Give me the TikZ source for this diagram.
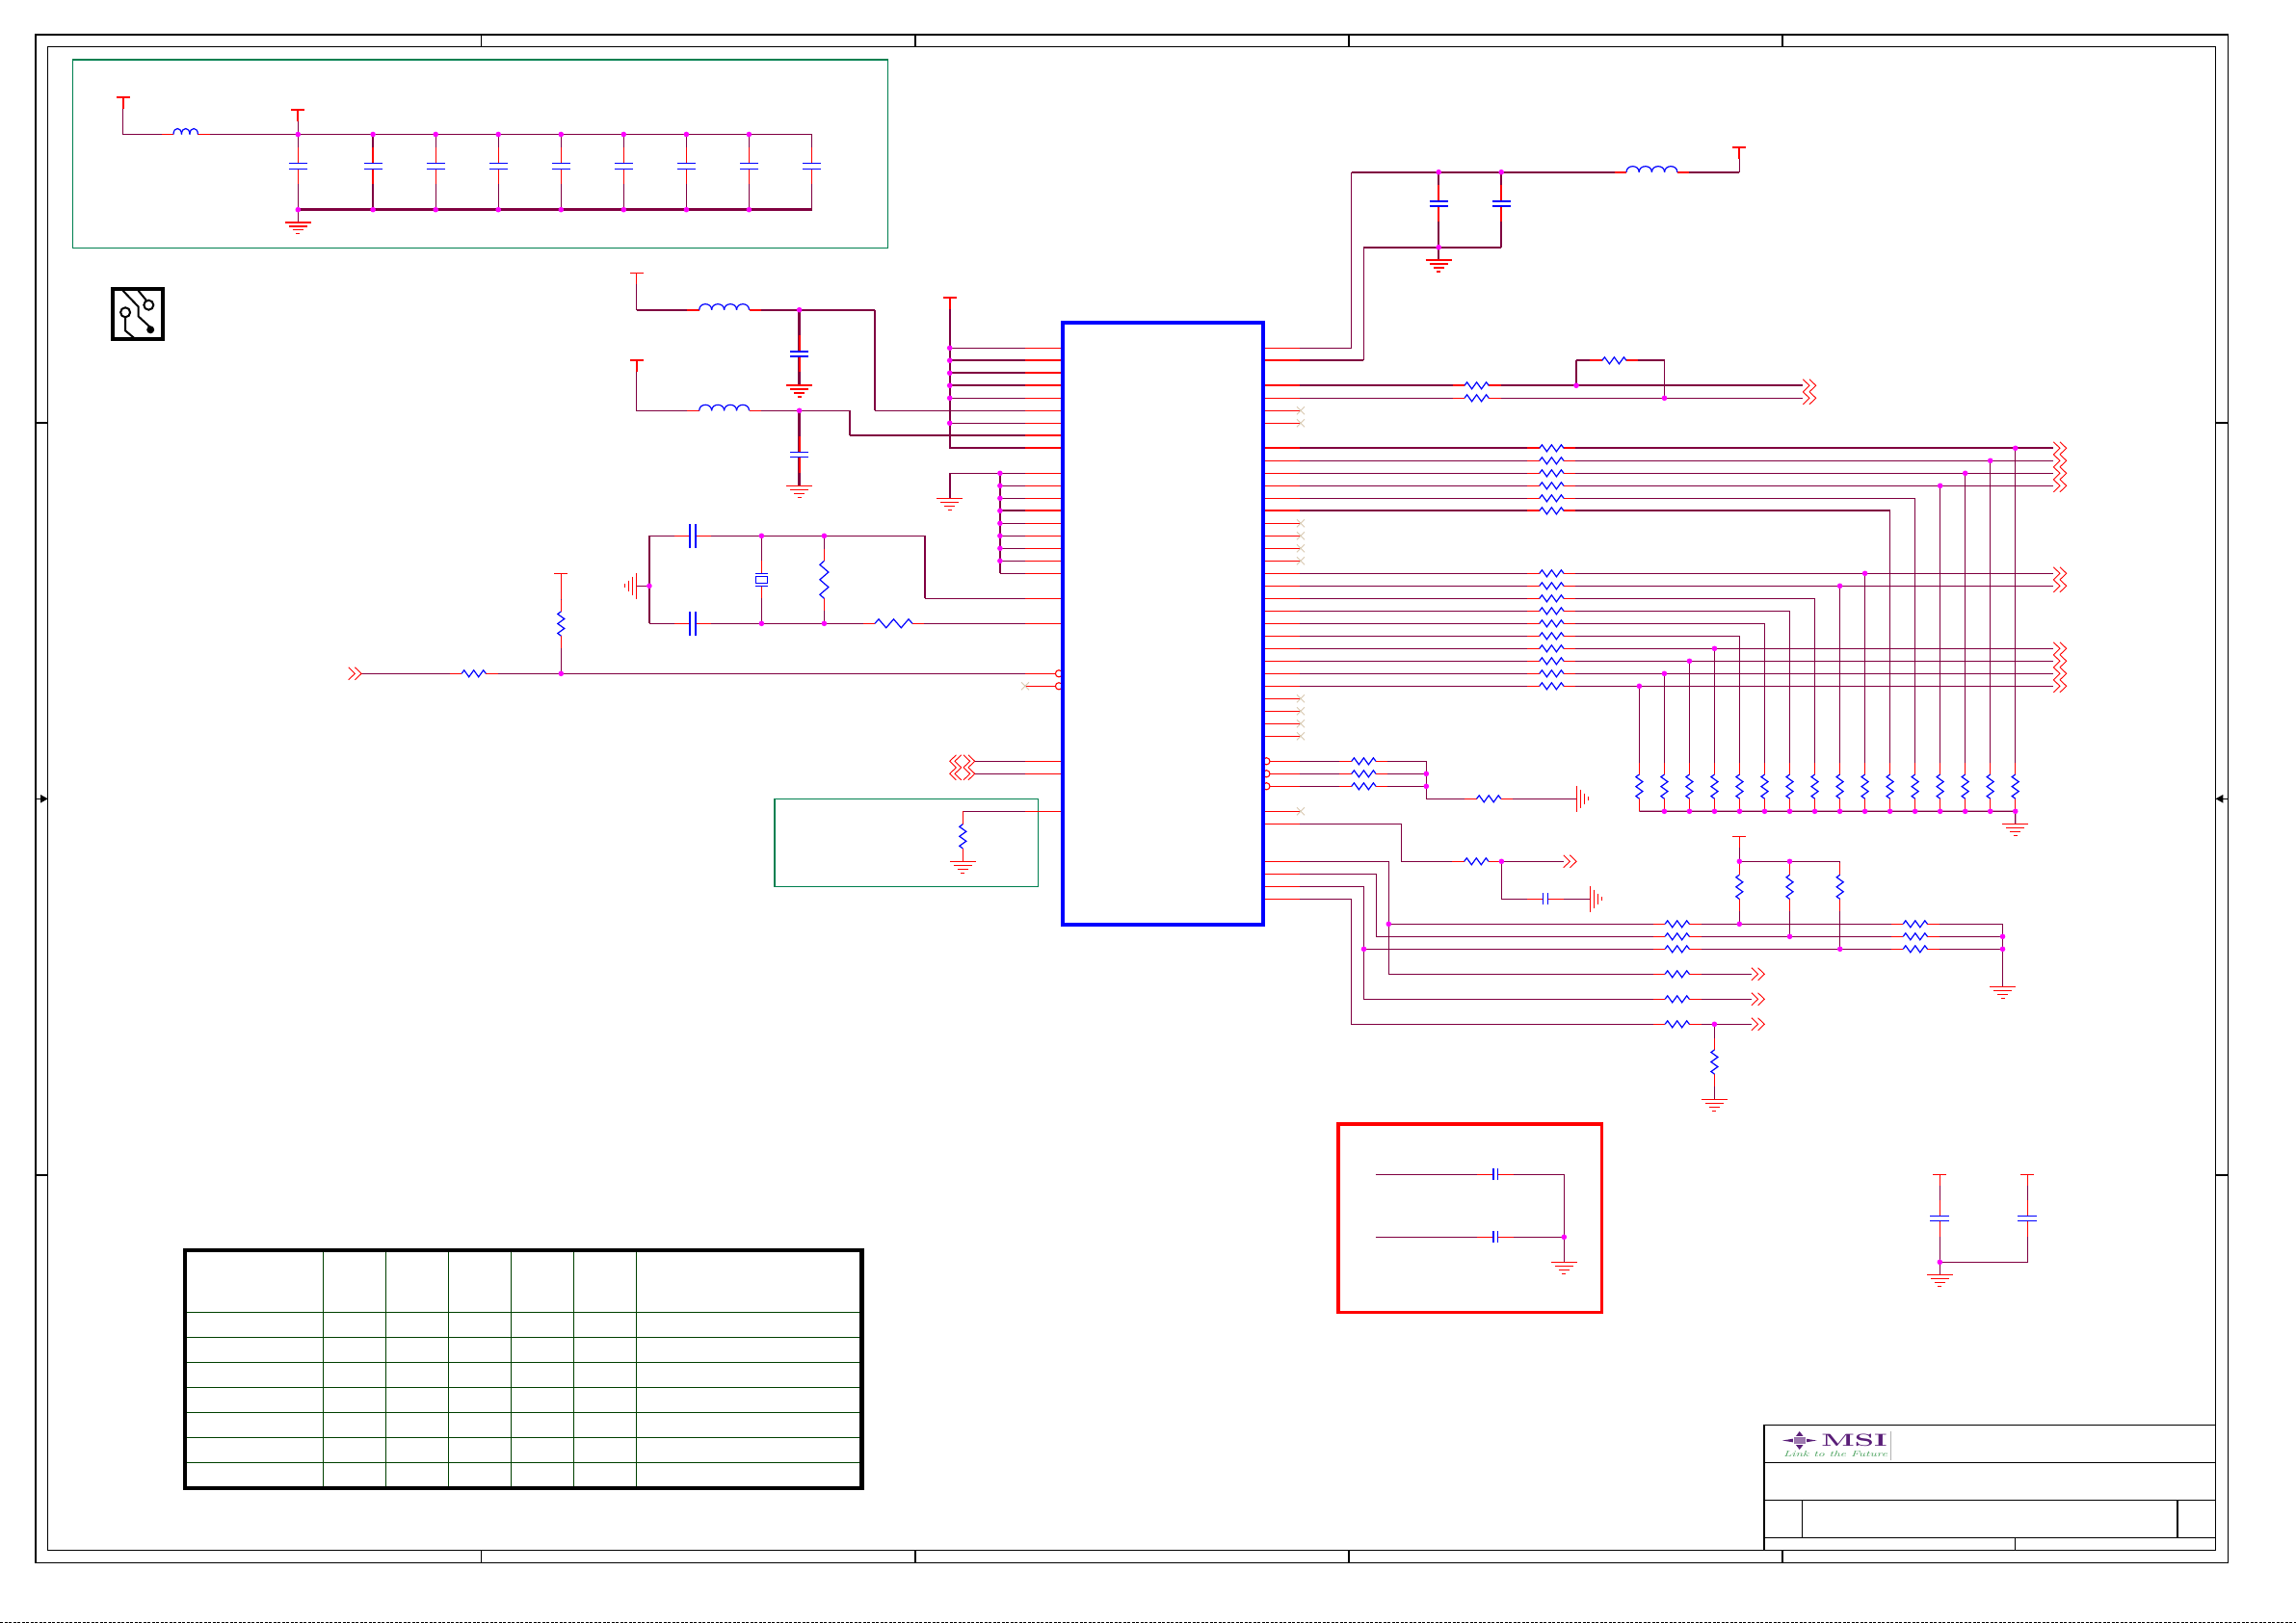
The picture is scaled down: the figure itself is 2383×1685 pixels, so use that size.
\documentclass[tikz,border=0pt]{standalone}
\usepackage{tikz}
\definecolor{netcol}{RGB}{128,0,64}
\definecolor{boxgreen}{RGB}{0,128,80}
\definecolor{tablegreen}{RGB}{0,64,0}
\definecolor{nccol}{RGB}{216,200,176}
\definecolor{logopurple}{RGB}{90,30,120}
\definecolor{logogreen}{RGB}{70,160,90}
\definecolor{juncol}{RGB}{255,0,255}
\tikzset{
	net/.style={draw=netcol, line width=1.3},
	netb/.style={draw=netcol, line width=2.3},
	pinline/.style={draw=red, line width=1.3},
	pinb/.style={draw=red, line width=2.3},
	part/.style={draw=blue, line width=1.2},
	frameline/.style={draw=black, line width=1.5},
	areabox/.style={draw=boxgreen, line width=1.1},
	icbox/.style={draw=blue, line width=4, rectangle, inner sep=0, outer sep=0, anchor=north west},
	logotext/.style={inner sep=0, outer sep=0}
}
\newcommand{\jun}[1]{\fill[juncol] #1 circle (2.8pt);}
\newcommand{\pwr}[3][1.1]{\draw[draw=red, line width=#1] (#2-7,#3) -- (#2+7,#3) (#2,#3) -- (#2,#3+12);}
\newcommand{\gnd}[3][1.1]{\begin{scope}[shift={(#2,#3)},rotate=0,draw=red]
		\draw[draw=red, line width=#1] (-13.5,0) -- (13.5,0) (-9.7,4) -- (9.7,4);
		\draw[draw=red, line width=1.1] (-5.7,8) -- (5.7,8) (-2,12) -- (2,12);
	\end{scope}}
\newcommand{\gndR}[2]{\begin{scope}[shift={(#1,#2)}]
		\draw[draw=red, line width=1.1] (0,-13.5) -- (0,13.5) (4,-9.7) -- (4,9.7) (8,-5.7) -- (8,5.7) (12,-2) -- (12,2);
	\end{scope}}
\newcommand{\gndL}[2]{\begin{scope}[shift={(#1,#2)}]
		\draw[draw=red, line width=1.1] (0,-13.5) -- (0,13.5) (-4,-9.7) -- (-4,9.7) (-8,-5.7) -- (-8,5.7) (-12,-2) -- (-12,2);
	\end{scope}}
\newcommand{\resP}[4][1.3]{\begin{scope}[shift={(#2,#3)},rotate=#4]
		\draw[white, line width=3] (-12.6,0) -- (12.6,0);
		\draw[pinline, line width=#1] (-25,0) -- (-12.6,0) (12.6,0) -- (25,0);
		\draw[part] (-12.6,0) -- (-10,-3.5) -- (-5,3.5) -- (0,-3.5) -- (5,3.5) -- (10,-3.5) -- (12.6,0);
	\end{scope}}
\newcommand{\resL}[3]{\begin{scope}[shift={(#1,#2)},rotate=#3]
		\draw[white, line width=3] (-19.5,0) -- (19.5,0);
		\draw[pinline] (-31.7,0) -- (-19.5,0) (19.5,0) -- (31.7,0);
		\draw[part] (-19.5,0) -- (-15.5,-4.5) -- (-7.8,4.5) -- (0,-4.5) -- (7.8,4.5) -- (15.5,-4.5) -- (19.5,0);
	\end{scope}}
\newcommand{\capP}[7][1.3]{\begin{scope}[shift={(#2,#3)},rotate=#4]
		\draw[white, line width=3] (0,-#5) -- (0,#5);
		\draw[pinline, line width=#1] (0,-19) -- (0,-#5) (0,#5) -- (0,19);
		\draw[part, line width=#7] (-#6,-#5) -- (#6,-#5) (-#6,#5) -- (#6,#5);
	\end{scope}}
\newcommand{\indH}[5][1.3]{\pgfmathsetmacro\indw{#4/#5}
	\draw[white, line width=3] (#2-#4/2,#3) -- (#2+#4/2,#3);
	\draw[pinline, line width=#1] (#2-#4/2-12.5,#3) -- (#2-#4/2,#3) (#2+#4/2,#3) -- (#2+#4/2+12.5,#3);
	\foreach \k in {1,...,#5}{
		\pgfmathsetmacro\inda{#2-#4/2+(\k-1)*\indw}
		\pgfmathsetmacro\indb{\inda+\indw}
		\draw[part] (\inda,#3) .. controls (\inda,#3-8) and (\indb,#3-8) .. (\indb,#3);
	}}
\newcommand{\chev}[2]{\draw[draw=red, line width=.9] (#1,#2-6.5) -- (#1+6.7,#2) -- (#1,#2+6.5) (#1+6.7,#2-6.5) -- (#1+13.4,#2) -- (#1+6.7,#2+6.5);}
\newcommand{\chevB}[2]{\draw[draw=red, line width=.9]
	(#1-19.3,#2-6.5) -- (#1-26,#2) -- (#1-19.3,#2+6.5) (#1-14,#2-6.5) -- (#1-20.7,#2) -- (#1-14,#2+6.5)
	(#1-11.7,#2-6.5) -- (#1-5,#2) -- (#1-11.7,#2+6.5) (#1-6.7,#2-6.5) -- (#1,#2) -- (#1-6.7,#2+6.5);}
\newcommand{\ncx}[2]{\draw[draw=nccol, line width=.9] (#1-4,#2-4) -- (#1+4,#2+4) (#1-4,#2+4) -- (#1+4,#2-4);}
\begin{document}
\begin{tikzpicture}[x=1pt, y=-1pt]
	\useasboundingbox (0,0) rectangle (2383,1685);
	\draw[draw=black, line width=.7, dash pattern=on 3pt off 1.5pt] (0,1684.4) -- (2383,1684.4);

	\draw[frameline] (37,36) rectangle (2312.6,1622.7);
	\draw[frameline] (49.7,48.3) rectangle (2299.6,1609.3);
	\foreach \x in {499.5,950,1400,1850}{
		\draw[frameline] (\x,36) -- (\x,48.3) (\x,1609.3) -- (\x,1622.7);
	}
	\foreach \y in {439,1220}{
		\draw[frameline] (37,\y) -- (49.7,\y) (2299.6,\y) -- (2312.6,\y);
	}
	\draw[frameline] (37,829.3) -- (49.7,829.3) (2299.6,829.3) -- (2312.6,829.3);
	\fill[black] (42,825) -- (49.7,829.3) -- (42,833.6) -- cycle;
	\fill[black] (2307.3,825) -- (2299.6,829.3) -- (2307.3,833.6) -- cycle;

	\draw[frameline] (1831.2,1479.3) rectangle (2299.6,1609.3);
	\draw[frameline] (1831.2,1518.3) -- (2299.6,1518.3) (1831.2,1557.3) -- (2299.6,1557.3) (1831.2,1596.3) -- (2299.6,1596.3);
	\draw[frameline] (1870.3,1557.3) -- (1870.3,1596.3) (2260.2,1557.3) -- (2260.2,1596.3) (2091.4,1596.3) -- (2091.4,1609.3);

	\fill[logopurple] (1850,1495.5) -- (1862,1493.5) -- (1867.7,1486) -- (1873.4,1493.5) -- (1885.5,1495.5) -- (1873.4,1497.5) -- (1867.7,1505) -- (1862,1497.5) -- cycle;
	\draw[draw=white, fill=logopurple!60, line width=.6] (1861,1491.5) rectangle (1874.4,1499.5);
	\node[logotext, font=\bfseries\fontsize{18}{18}\selectfont, text=logopurple, xscale=1.8] (logoname) at (1924.5,1495.5) {MSI};
	\node[logotext, font=\itshape\fontsize{8.5}{8.5}\selectfont, text=logogreen, xscale=1.55] (logoline) at (1905,1510) {Link to the Future};
	\draw[draw=black!30, line width=1] (1962.5,1486) -- (1962.5,1516);

	\draw[areabox] (75.3,62) rectangle (921.6,257.3);
	\draw[areabox] (804,829.3) rectangle (1077.3,920.3);
	\draw[draw=red, line width=3.4] (1389,1167) rectangle (1662.3,1362.7);

	\draw[draw=black, line width=3.5] (117.2,300.1) rectangle (169.2,352.2);
	\draw[draw=black, line width=2] (127.5,301.7) -- (143.5,318.3) -- (143.5,328.3) -- (156.2,340);
	\fill[black] (156.2,342.3) circle (4pt);
	\draw[draw=black, line width=2] (143.5,301.7) -- (151.8,311.7);
	\draw[draw=black, line width=2] (154.3,316.7) circle (5pt);
	\draw[draw=black, line width=2] (130.1,324.3) circle (5pt);
	\draw[draw=black, line width=2] (130.1,329.3) -- (130.1,343.3) -- (139,350.7);

	\draw[draw=black, line width=4.4] (192.2,1297.7) rectangle (894.4,1545);
	\foreach \x in {335.6,400.3,465.4,530.5,595.7,660.3}{
		\draw[draw=tablegreen, line width=1.1] (\x,1299.7) -- (\x,1543);
	}
	\foreach \y in {1362.3,1388.3,1414.3,1440.3,1466.3,1492.3,1518.3}{
		\draw[draw=tablegreen, line width=1.1] (194.2,\y) -- (892.4,\y);
	}

	\foreach \i in {0,...,44}{
		\pgfmathsetmacro\py{361.3+13*\i}
		\coordinate (pl\i) at (1103,\py);
		\coordinate (pr\i) at (1310.4,\py);
		\coordinate (end\i) at (2131.3,\py);
	}
	\foreach \c in {0,...,15}{
		\pgfmathsetmacro\cx{1701.4+26.02*\c}
		\coordinate (col\c) at (\cx,842.3);
	}

	\draw[net] (127.5,100.7) -- (127.5,139.5) -- (842.5,139.5) -- (842.5,217.7);
	\draw[net] (309.3,113.7) -- (309.3,139.5);
	\draw[netb, line width=3] (309.3,217.7) -- (842.5,217.7);
	\draw[net] (309.3,217.7) -- (309.3,230.7);
	\foreach \x in {309.3,387.1,452.2,517.2,582.3,647.3,712.4,777.4}{
		\draw[net] (\x,139.5) -- (\x,217.7);
	}
	\foreach \x in {309.3,387.1,452.2,517.2,582.3,647.3,712.4,777.4,842.5}{
		\capP{\x}{172.3}{0}{3}{9.6}{1.2}
	}
	\foreach \x in {309.3,387.1,452.2,517.2,582.3,647.3,712.4,777.4}{
		\jun{(\x,139.5)}
		\jun{(\x,217.7)}
	}
	\indH{192.7}{139.5}{25.4}{3}
	\pwr[2]{127.5}{100.7}
	\pwr[2]{309.3}{113.7}
	\gnd[2]{309.3}{230.7}

	\draw[net] (660.7,283.3) -- (660.7,321.7);
	\draw[netb] (660.7,321.7) -- (907.9,321.7);
	\draw[net, line width=1.6] (907.9,321.7) -- (907.9,426.3);
	\draw[net] (907.9,426.3) -- (pl5);
	\draw[net] (660.7,374) -- (660.7,426.3) -- (881.8,426.3);
	\draw[net, line width=1.6] (881.8,426.3) -- (881.8,452.3);
	\draw[netb] (881.8,452.3) -- (pl7);
	\draw[netb] (829.6,321.7) -- (829.6,400);
	\draw[netb] (829.6,426.3) -- (829.6,504.3);
	\indH[2.2]{751.6}{321.7}{51.8}{4}
	\indH{751.6}{426.3}{51.8}{4}
	\capP[2.2]{829.6}{367.3}{0}{2.7}{9.3}{2}
	\capP[2.2]{829.6}{472}{0}{2.7}{9.3}{1.2}
	\pwr{660.7}{283.3}
	\pwr[2]{660.7}{374}
	\gnd[2]{829.6}{400}
	\gnd{829.6}{504.3}
	\jun{(829.6,321.7)}
	\jun{(829.6,426.3)}

	\draw[netb] (985.7,309) -- (985.7,465.3) -- (pl8);
	\foreach \i in {0,4,6}{
		\draw[net] (pl\i -| 985.7,0) -- (pl\i);
	}
	\foreach \i in {1,2,3}{
		\draw[netb] (pl\i -| 985.7,0) -- (pl\i);
	}
	\foreach \i in {0,1,2,3,4,6}{
		\jun{(pl\i -| 985.7,0)}
	}
	\pwr[2]{985.7}{309}

	\draw[netb] (1037.9,491.3) -- (1037.9,595.3);
	\draw[net, line width=1.6] (985.7,517.3) -- (985.7,491.3);
	\draw[net] (985.7,491.3) -- (pl10);
	\foreach \i in {11,12,14,15,16,17,18}{
		\draw[net] (pl\i -| 1037.9,0) -- (pl\i);
	}
	\draw[netb] (pl13 -| 1037.9,0) -- (pl13);
	\foreach \i in {10,...,17}{
		\jun{(pl\i -| 1037.9,0)}
	}
	\gnd{985.7}{517.3}

	\draw[netb] (673.9,556.3) -- (673.9,647.3);
	\draw[net] (660.7,608.3) -- (673.9,608.3);
	\draw[net] (673.9,556.3) -- (960,556.3);
	\draw[net, line width=1.6] (960,556.3) -- (960,621.3);
	\draw[net] (960,621.3) -- (pl20);
	\draw[net] (673.9,647.3) -- (pl22);
	\draw[net] (790.4,556.3) -- (790.4,647.3);
	\draw[net] (855.4,556.3) -- (855.4,647.3);
	\capP{719}{556.3}{90}{3}{12.5}{1.8}
	\capP{719}{647.3}{90}{3}{12.5}{1.8}
	\draw[white, line width=3] (790.4,595.3) -- (790.4,608.3);
	\draw[pinline] (790.4,582) -- (790.4,595.3) (790.4,608.3) -- (790.4,621);
	\draw[part] (783.6,595.3) -- (797.2,595.3) (783.6,608.3) -- (797.2,608.3);
	\draw[part] (784.6,598.3) rectangle (796.2,605.3);
	\resL{855.4}{601.8}{90}
	\resL{927.5}{647.3}{0}
	\gndL{660.7}{608.3}
	\jun{(673.9,608.3)}
	\jun{(790.4,556.3)}
	\jun{(790.4,647.3)}
	\jun{(855.4,556.3)}
	\jun{(855.4,647.3)}

	\draw[net] (375,699.3) -- (pl26);
	\draw[net] (582.3,595.3) -- (582.3,699.3);
	\chev{361.7}{699.3}
	\resP{491.7}{699.3}{0}
	\resP{582.3}{647.5}{90}
	\draw[draw=red, line width=1.1] (575.3,595.3) -- (589.3,595.3) (582.3,595.3) -- (582.3,622);
	\jun{(582.3,699.3)}

	\chevB{1011.7}{790.3}
	\chevB{1011.7}{803.3}
	\draw[net] (1011.7,790.3) -- (pl33);
	\draw[net] (1011.7,803.3) -- (pl34);
	\draw[net] (999.3,842.3) -- (pl37);
	\draw[draw=red, line width=1.1] (999.3,842.3) -- (999.3,894.3);
	\resP{999.3}{868.3}{90}
	\gnd{999.3}{894.3}

	\foreach \i in {0,4,5,6,10,11,12,14,15,16,17,18,20,22,33,34,37}{
		\draw[pinline] (pl\i) -- ++(-39,0);
	}
	\foreach \i in {1,2,3,7,8,13}{
		\draw[pinb] (pl\i) -- ++(-39,0);
	}
	\draw[pinline] (pl26) ++(-39,0) -- ++(35,0);
	\draw[pinline] (pl27) ++(-39,0) -- ++(35,0);
	\ncx{1064}{712.3}
	\draw[draw=red, fill=white, line width=1.1] (1099,699.3) circle (3.6pt) (1099,712.3) circle (3.6pt);

	\draw[net] (pr0) -- (1402.5,361.3) -- (1402.5,178.7);
	\draw[netb] (1402.5,178.7) -- (1805.4,178.7);
	\draw[net, line width=1.6] (1805.4,178.7) -- (1805.4,153);
	\draw[netb] (pr1) -- (1415.4,374.3);
	\draw[net, line width=1.6] (1415.4,374.3) -- (1415.4,256.7);
	\draw[netb] (1415.4,256.7) -- (1558.2,256.7);
	\draw[net, line width=1.6] (1558.2,256.7) -- (1558.2,178.7);
	\draw[net, line width=1.6] (1493.2,178.7) -- (1493.2,270);
	\capP[1.6]{1493.2}{211.5}{0}{2.2}{9.6}{2}
	\capP[1.6]{1558.2}{211.5}{0}{2.2}{9.6}{2}
	\indH[2.2]{1714.4}{178.7}{52.8}{4}
	\pwr[2]{1805.4}{153}
	\gnd[2]{1493.2}{270}
	\jun{(1493.2,178.7)}
	\jun{(1558.2,178.7)}
	\jun{(1493.2,256.7)}

	\draw[netb] (pr3) -- (1871.3,400.3);
	\draw[net] (pr4) -- (1871.3,413.3);
	\draw[net, line width=1.6] (1636,400.3) -- (1636,374.3);
	\draw[netb] (1636,374.3) -- (1727.5,374.3);
	\draw[net] (1727.5,374.3) -- (1727.5,413.3);
	\resP[2.2]{1532.6}{400.3}{0}
	\resP{1532.6}{413.3}{0}
	\resP[2.2]{1675.4}{374.3}{0}
	\chev{1871.3}{400.3}
	\chev{1871.3}{413.3}
	\jun{(1636,400.3)}
	\jun{(1727.5,413.3)}

	\draw[netb] (pr8) -- (end8);
	\draw[netb] (pr13) -- (pr13 -| col10);
	\foreach \i/\c in {9/14,10/13,11/12,18/9,19/8,24/3,25/2,26/1,27/0}{
		\draw[net] (pr\i) -- (end\i);
	}
	\foreach \i/\c in {8/15,9/14,10/13,11/12,18/9,19/8,24/3,25/2,26/1,27/0}{
		\draw[net] (pr\i -| col\c) -- (col\c);
	}
	\foreach \i/\c in {12/11,20/7,21/6,22/5,23/4}{
		\draw[net] (pr\i) -| (col\c);
	}
	\draw[net] (col10) -- (pr13 -| col10);
	\draw[net] (col0) -- (col15) -- (2091.7,855.3);
	\foreach \c in {0,...,15}{
		\pgfmathsetmacro\cx{1701.4+26.02*\c}
		\resP{\cx}{816.6}{90}
	}
	\foreach \c in {1,...,15}{
		\jun{(col\c)}
	}
	\foreach \i in {9,10,11,12,18,19,20,21,22,23,24,25,26,27}{
		\pgfmathsetmacro\py{361.3+13*\i}
		\resP{1610.4}{\py}{0}
	}
	\resP[2.2]{1610.4}{465.3}{0}
	\resP[2.2]{1610.4}{530.3}{0}
	\foreach \i/\c in {8/15,9/14,10/13,11/12,18/9,19/8,24/3,25/2,26/1,27/0}{
		\pgfmathsetmacro\py{361.3+13*\i}
		\chev{2131.3}{\py}
		\jun{(pr\i -| col\c)}
	}
	\gnd{2091.7}{855.3}

	\draw[net] (1318,790.3) -- (1480.3,790.3) -- (1480.3,829.3) -- (1636.5,829.3);
	\draw[net] (1318,803.3) -- (1480.3,803.3);
	\draw[net] (1318,816.3) -- (1480.3,816.3);
	\resP{1415.4}{790.3}{0}
	\resP{1415.4}{803.3}{0}
	\resP{1415.4}{816.3}{0}
	\resP{1545.2}{829.3}{0}
	\gndR{1636.5}{829.3}
	\jun{(1480.3,803.3)}
	\jun{(1480.3,816.3)}

	\draw[net] (pr38) -| (1454.5,894.3) -- (1622.7,894.3);
	\draw[net] (1558.4,894.3) -- (1558.4,933.3) -- (1650.3,933.3);
	\resP{1532.3}{894.3}{0}
	\capP{1604}{933.3}{90}{2.5}{6}{1.4}
	\chev{1622.7}{894.3}
	\gndR{1650.3}{933.3}
	\jun{(1558.4,894.3)}

	\draw[net] (pr41) -| (1441.3,1011.3) -- (1817.9,1011.3);
	\draw[net] (1441.3,959.3) -- (2078.5,959.3);
	\draw[net] (pr42) -| (1428.7,972.3) -- (2078.5,972.3);
	\draw[net] (pr43) -| (1415.5,1037.3) -- (1817.9,1037.3);
	\draw[net] (1415.5,985.3) -- (2078.5,985.3);
	\draw[net] (pr44) -| (1402.3,1063.3) -- (1817.9,1063.3);
	\draw[net] (2078.5,959.3) -- (2078.5,1024.3);
	\draw[net] (1805.3,868.3) -- (1805.3,959.3);
	\draw[net] (1805.3,894.3) -- (1909.7,894.3) -- (1909.7,985.3);
	\draw[net] (1857.5,894.3) -- (1857.5,972.3);
	\draw[net] (1779.4,1063.3) -- (1779.4,1141.4);
	\foreach \y in {959.3,972.3,985.3,1011.3,1037.3,1063.3}{
		\resP{1740.7}{\y}{0}
	}
	\foreach \y in {959.3,972.3,985.3}{
		\resP{1987.8}{\y}{0}
	}
	\foreach \x in {1805.3,1857.5,1909.7}{
		\resP{\x}{920.8}{90}
	}
	\resP{1779.4}{1102.5}{90}
	\chev{1817.9}{1011.3}
	\chev{1817.9}{1037.3}
	\chev{1817.9}{1063.3}
	\pwr{1805.3}{868.3}
	\gnd{2078.5}{1024.3}
	\gnd{1779.4}{1141.4}
	\foreach \a/\b in {1441.3/959.3,1415.5/985.3,2078.5/972.3,2078.5/985.3,1805.3/894.3,1857.5/894.3,1805.3/959.3,1857.5/972.3,1909.7/985.3,1779.4/1063.3}{
		\jun{(\a,\b)}
	}

	\foreach \i in {0,4,5,6,9,10,11,12,14,15,16,17,18,19,20,21,22,23,24,25,26,27,28,29,30,31,37,38,41,42,43,44}{
		\draw[pinline] (pr\i) -- ++(39,0);
	}
	\foreach \i in {1,3,8,13}{
		\draw[pinb] (pr\i) -- ++(39,0);
	}
	\foreach \i in {33,34,35}{
		\draw[pinline] (pr\i) ++(8,0) -- ++(31,0);
	}
	\foreach \i in {5,6,14,15,16,17,28,29,30,31,37}{
		\pgfmathsetmacro\py{361.3+13*\i}
		\ncx{1350}{\py}
	}
	\draw[draw=red, fill=white, line width=1.1] (1314.4,790.3) circle (3.6pt) (1314.4,803.3) circle (3.6pt) (1314.4,816.3) circle (3.6pt);

	\draw[net] (1427.7,1219.3) -- (1623.3,1219.3) -- (1623.3,1310.3);
	\draw[net] (1427.7,1284.3) -- (1623.3,1284.3);
	\capP{1552.2}{1219.3}{90}{2.2}{6}{1.6}
	\capP{1552.2}{1284.3}{90}{2.2}{6}{1.6}
	\gnd{1623.3}{1310.3}
	\jun{(1623.3,1284.3)}

	\draw[net] (2013.3,1219.3) -- (2013.3,1323.3);
	\draw[net] (2104.3,1219.3) -- (2104.3,1310.3) -- (2013.3,1310.3);
	\capP{2013.3}{1264.8}{0}{2.5}{10}{1.2}
	\capP{2104.3}{1264.8}{0}{2.5}{10}{1.2}
	\pwr{2013.3}{1219.3}
	\pwr{2104.3}{1219.3}
	\gnd{2013.3}{1323.3}
	\jun{(2013.3,1310.3)}

	\node[icbox, minimum width=208pt, minimum height=624.6pt] (ic) at (1103,335) {};
\end{tikzpicture}
\end{document}
